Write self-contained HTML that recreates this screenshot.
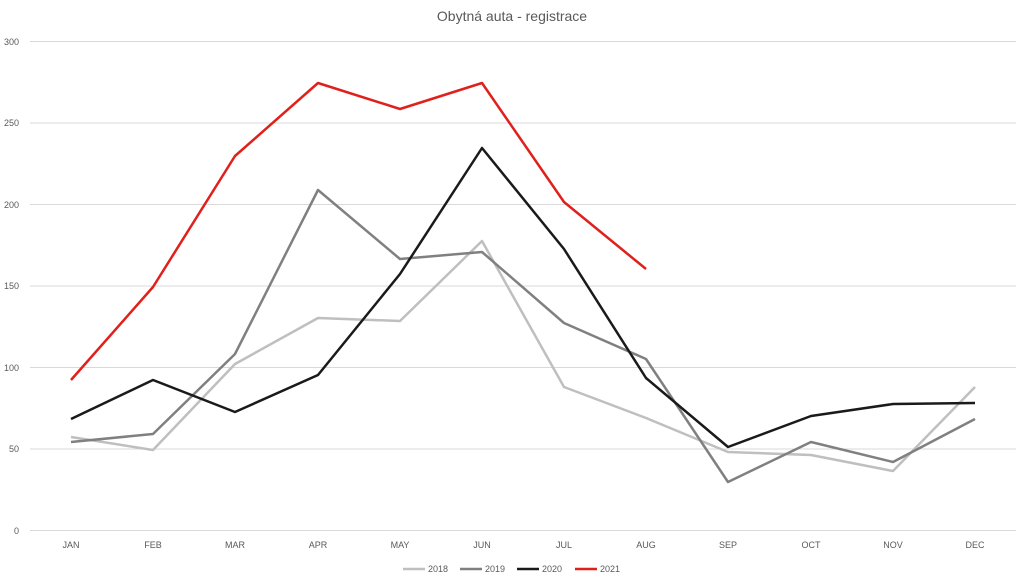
<!DOCTYPE html>
<html><head><meta charset="utf-8"><style>
html,body{margin:0;padding:0;background:#fff;}
svg text{font-family:"Liberation Sans",sans-serif;}
</style></head><body>
<svg width="1024" height="581" viewBox="0 0 1024 581" xmlns="http://www.w3.org/2000/svg">
<rect width="1024" height="581" fill="#fff"/>
<text x="512" y="21" font-size="14" fill="#595959" text-anchor="middle">Obytná auta - registrace</text>
<g stroke="#d9d9d9" stroke-width="1">
<line x1="30" y1="41.5" x2="1016" y2="41.5"/>
<line x1="30" y1="123" x2="1016" y2="123"/>
<line x1="30" y1="204.5" x2="1016" y2="204.5"/>
<line x1="30" y1="286" x2="1016" y2="286"/>
<line x1="30" y1="367.5" x2="1016" y2="367.5"/>
<line x1="30" y1="449" x2="1016" y2="449"/>
<line x1="30" y1="530.5" x2="1016" y2="530.5"/>
</g>
<g font-size="9" fill="#595959" text-anchor="end">
<text x="19" y="45">300</text><text x="19" y="126">250</text><text x="19" y="208">200</text>
<text x="19" y="289">150</text><text x="19" y="371">100</text><text x="19" y="452">50</text><text x="19" y="534">0</text>
</g>
<g font-size="9" fill="#595959" text-anchor="middle">
<text x="71" y="548">JAN</text><text x="153" y="548">FEB</text><text x="235" y="548">MAR</text>
<text x="318" y="548">APR</text><text x="400" y="548">MAY</text><text x="482" y="548">JUN</text>
<text x="564" y="548">JUL</text><text x="646" y="548">AUG</text><text x="728" y="548">SEP</text>
<text x="811" y="548">OCT</text><text x="893" y="548">NOV</text><text x="975" y="548">DEC</text>
</g>
<g fill="none" stroke-width="2.5" stroke-linejoin="round">
<polyline stroke="#bfbfbf" points="71,437 153,450 235,364 318,318 400,321 482,241 564,387 646,418 728,452 811,455 893,471 975,387"/>
<polyline stroke="#808080" points="71,442 153,434 235,354 318,190 400,259 482,252 564,323 646,359 728,482 811,442 893,462 975,419"/>
<polyline stroke="#1a1a1a" points="71,419 153,380 235,412 318,375 400,274 482,148 564,249 646,378 728,447 811,416 893,404 975,403"/>
<polyline stroke="#e0201b" points="71,380 153,287 235,156 318,83 400,109 482,83 564,202 646,269"/>
</g>
<g stroke-width="2.5">
<line x1="403" y1="569" x2="425" y2="569" stroke="#bfbfbf"/>
<line x1="460" y1="569" x2="482" y2="569" stroke="#808080"/>
<line x1="517" y1="569" x2="539" y2="569" stroke="#1a1a1a"/>
<line x1="575" y1="569" x2="597" y2="569" stroke="#e0201b"/>
</g>
<g font-size="9" fill="#595959">
<text x="428" y="572">2018</text><text x="485" y="572">2019</text>
<text x="542" y="572">2020</text><text x="600" y="572">2021</text>
</g>
</svg>
</body></html>
